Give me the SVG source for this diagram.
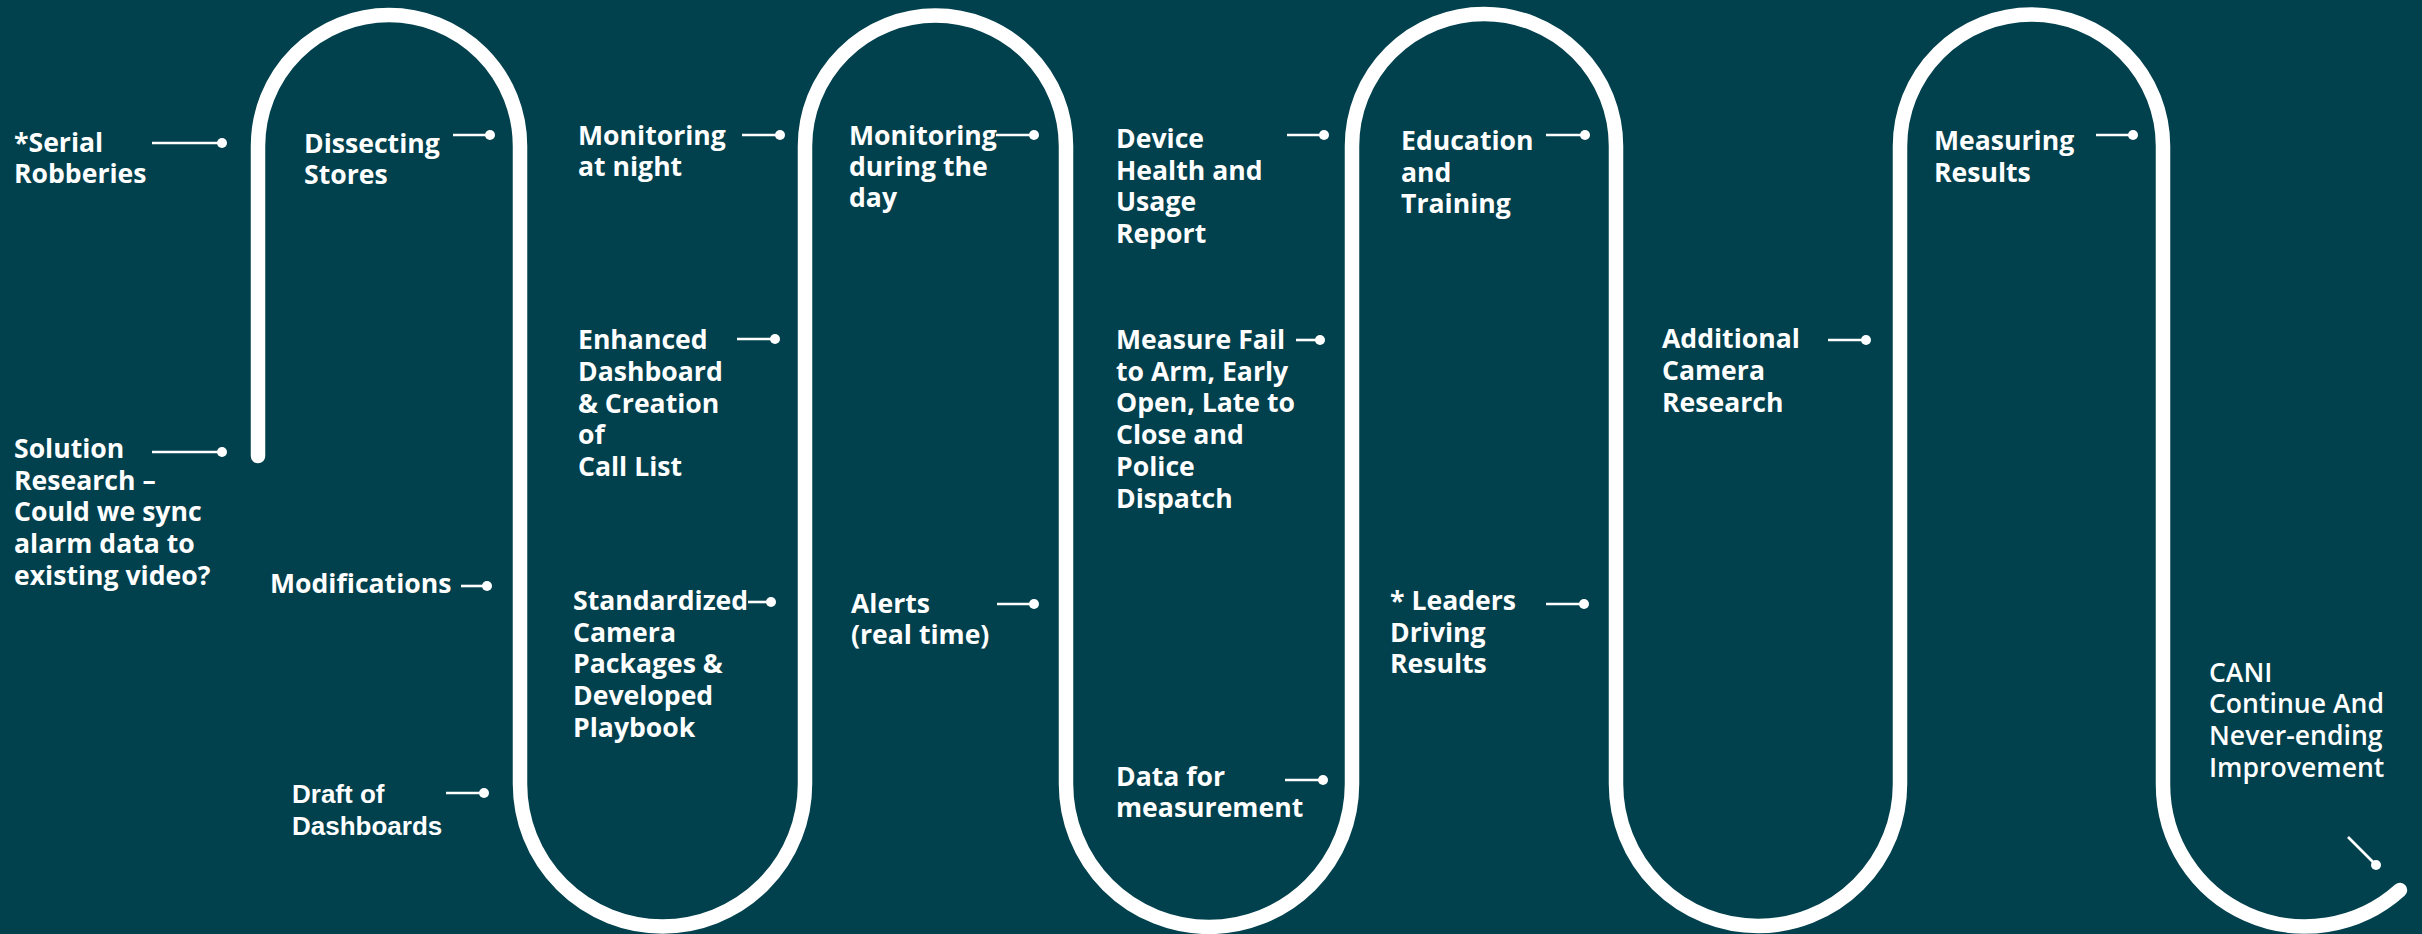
<svg xmlns="http://www.w3.org/2000/svg" width="2422" height="934" viewBox="0 0 2422 934">
<style>
.t{font-family:"Open Sans","Liberation Sans",sans-serif;font-weight:700;font-size:26.6px;fill:#ffffff}
.a{font-family:"Liberation Sans",Arial,sans-serif;font-weight:700;font-size:26px;fill:#ffffff}
.c{font-weight:600}
.ld{stroke:#ffffff;stroke-width:2.6;fill:none}
.dot{fill:#ffffff}
.road{stroke:#ffffff;stroke-width:14.5;fill:none;stroke-linecap:round}
</style>
<rect x="0" y="0" width="2422" height="934" fill="#01404d"/>
<g id="road">
<path class="road" d="M 258 456 L 258 146 A 131 131 0 0 1 520 146 L 520 784 A 142.5 142.5 0 0 0 805 784 L 805 146 A 130.5 130.5 0 0 1 1066 146 L 1066 784 A 143 143 0 0 0 1352 784 L 1352 146 A 132 132 0 0 1 1616 146 L 1616 784 A 142 142 0 0 0 1900 784 L 1900 146 A 131.5 131.5 0 0 1 2163 146 L 2163 784 A 142 142 0 0 0 2400 890"/>
</g>
<g id="connectors">
<line class="ld" x1="152" y1="143" x2="222" y2="143"/><circle class="dot" cx="222" cy="143" r="5"/>
<line class="ld" x1="453" y1="135" x2="490" y2="135"/><circle class="dot" cx="490" cy="135" r="5"/>
<line class="ld" x1="152" y1="452" x2="222" y2="452"/><circle class="dot" cx="222" cy="452" r="5"/>
<line class="ld" x1="461" y1="586" x2="487" y2="586"/><circle class="dot" cx="487" cy="586" r="5"/>
<line class="ld" x1="446" y1="793" x2="484" y2="793"/><circle class="dot" cx="484" cy="793" r="5"/>
<line class="ld" x1="742" y1="135" x2="780" y2="135"/><circle class="dot" cx="780" cy="135" r="5"/>
<line class="ld" x1="737" y1="339" x2="775" y2="339"/><circle class="dot" cx="775" cy="339" r="5"/>
<line class="ld" x1="748" y1="602" x2="771" y2="602"/><circle class="dot" cx="771" cy="602" r="5"/>
<line class="ld" x1="996" y1="135" x2="1034" y2="135"/><circle class="dot" cx="1034" cy="135" r="5"/>
<line class="ld" x1="997" y1="604" x2="1034" y2="604"/><circle class="dot" cx="1034" cy="604" r="5"/>
<line class="ld" x1="1287" y1="135" x2="1324" y2="135"/><circle class="dot" cx="1324" cy="135" r="5"/>
<line class="ld" x1="1296" y1="340" x2="1320" y2="340"/><circle class="dot" cx="1320" cy="340" r="5"/>
<line class="ld" x1="1285" y1="780" x2="1323" y2="780"/><circle class="dot" cx="1323" cy="780" r="5"/>
<line class="ld" x1="1546" y1="135" x2="1585" y2="135"/><circle class="dot" cx="1585" cy="135" r="5"/>
<line class="ld" x1="1546" y1="604" x2="1584" y2="604"/><circle class="dot" cx="1584" cy="604" r="5"/>
<line class="ld" x1="1828" y1="340" x2="1866" y2="340"/><circle class="dot" cx="1866" cy="340" r="5"/>
<line class="ld" x1="2096" y1="135" x2="2133" y2="135"/><circle class="dot" cx="2133" cy="135" r="5"/>
<line class="ld" x1="2348" y1="837" x2="2376" y2="865"/><circle class="dot" cx="2376" cy="865" r="5"/>
</g>
<g id="n-serial"><text class="t" x="14" y="152">*Serial</text><text class="t" x="14" y="183">Robberies</text></g>
<g id="n-dissecting"><text class="t" x="304" y="153">Dissecting</text><text class="t" x="304" y="184">Stores</text></g>
<g id="n-solution"><text class="t" x="14" y="458">Solution</text><text class="t" x="14" y="490">Research –</text><text class="t" x="14" y="521">Could we sync</text><text class="t" x="14" y="553">alarm data to</text><text class="t" x="14" y="585">existing video?</text></g>
<g id="n-modifications"><text class="t" x="270" y="593">Modifications</text></g>
<g id="n-draft"><text class="a" x="292" y="803">Draft of</text><text class="a" x="292" y="835">Dashboards</text></g>
<g id="n-night"><text class="t" x="578" y="145">Monitoring</text><text class="t" x="578" y="176">at night</text></g>
<g id="n-enhanced"><text class="t" x="578" y="349">Enhanced</text><text class="t" x="578" y="381">Dashboard</text><text class="t" x="578" y="412.5">&amp; Creation</text><text class="t" x="578" y="444">of</text><text class="t" x="578" y="476">Call List</text></g>
<g id="n-standardized"><text class="t" x="573" y="610">Standardized</text><text class="t" x="573" y="642">Camera</text><text class="t" x="573" y="673">Packages &amp;</text><text class="t" x="573" y="705">Developed</text><text class="t" x="573" y="737">Playbook</text></g>
<g id="n-day"><text class="t" x="849" y="145">Monitoring</text><text class="t" x="849" y="176">during the</text><text class="t" x="849" y="207">day</text></g>
<g id="n-alerts"><text class="t" x="851" y="613">Alerts</text><text class="t" x="851" y="644">(real time)</text></g>
<g id="n-device"><text class="t" x="1116" y="148">Device</text><text class="t" x="1116" y="179.5">Health and</text><text class="t" x="1116" y="211">Usage</text><text class="t" x="1116" y="243">Report</text></g>
<g id="n-measure"><text class="t" x="1116" y="349">Measure Fail</text><text class="t" x="1116" y="381">to Arm, Early</text><text class="t" x="1116" y="412">Open, Late to</text><text class="t" x="1116" y="444">Close and</text><text class="t" x="1116" y="476">Police</text><text class="t" x="1116" y="508">Dispatch</text></g>
<g id="n-data"><text class="t" x="1116" y="786">Data for</text><text class="t" x="1116" y="817">measurement</text></g>
<g id="n-education"><text class="t" x="1401" y="150">Education</text><text class="t" x="1401" y="182">and</text><text class="t" x="1401" y="213">Training</text></g>
<g id="n-leaders"><text class="t" x="1390" y="610">* Leaders</text><text class="t" x="1390" y="642">Driving</text><text class="t" x="1390" y="673">Results</text></g>
<g id="n-additional"><text class="t" x="1662" y="348">Additional</text><text class="t" x="1662" y="380">Camera</text><text class="t" x="1662" y="412">Research</text></g>
<g id="n-measuring"><text class="t" x="1934" y="150">Measuring</text><text class="t" x="1934" y="182">Results</text></g>
<g id="n-cani"><text class="t c" x="2209" y="682">CANI</text><text class="t c" x="2209" y="713">Continue And</text><text class="t c" x="2209" y="745">Never-ending</text><text class="t c" x="2209" y="777">Improvement</text></g>
</svg>
